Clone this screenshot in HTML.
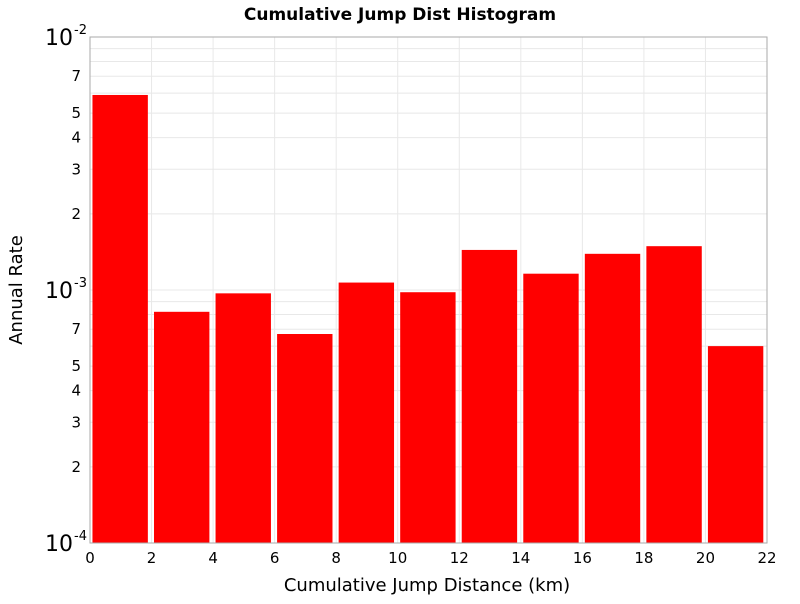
<!DOCTYPE html>
<html><head><meta charset="utf-8"><style>
body{margin:0;background:#fff;font-family:"DejaVu Sans","Liberation Sans",sans-serif}
</style></head><body>
<svg id="chart" width="800" height="600" xmlns="http://www.w3.org/2000/svg" font-family="DejaVu Sans, Liberation Sans, sans-serif">
<text x="400" y="20" text-anchor="middle" font-size="17" font-weight="bold">Cumulative Jump Dist Histogram</text>
<g id="grid"></g><g id="bars"></g><g id="axes"></g>
<text x="427" y="591" text-anchor="middle" font-size="18">Cumulative Jump Distance (km)</text>
<text transform="translate(22,290) rotate(-90)" text-anchor="middle" font-size="18">Annual Rate</text>
</svg>
<script>
const binStarts=[0,2,4,6,8,10,12,14,16,18,20];
const rates=[5.9e-3,8.2e-4,9.7e-4,6.7e-4,1.07e-3,9.8e-4,1.44e-3,1.16e-3,1.39e-3,1.49e-3,6.0e-4];
const xTicks=[0,2,4,6,8,10,12,14,16,18,20,22];
const minorLabels=[2,3,4,5,7];
const decades=[-4,-3,-2];
const NS="http://www.w3.org/2000/svg";
const L=90,R=767,T=37,B=543;
const xs=v=>L+(v/22)*(R-L);
const ys=v=>B-(Math.log10(v)+4)/2*(B-T);
function mk(tag,attrs,parent,txt){const e=document.createElementNS(NS,tag);for(const k in attrs)e.setAttribute(k,attrs[k]);if(txt!==undefined)e.textContent=txt;parent.appendChild(e);return e;}
const grid=document.getElementById('grid'),bars=document.getElementById('bars'),axes=document.getElementById('axes');
xTicks.forEach(t=>{const l=mk('line',{x1:xs(t),x2:xs(t),y1:T,y2:B,stroke:'#e8e8e8'},grid);

});
[-4,-3].forEach(d=>{for(let m=1;m<10;m++){const v=m*Math.pow(10,d);const y=ys(v);
const l=mk('line',{x1:L,x2:R,y1:y,y2:y,stroke:'#e8e8e8'},grid);

}});
binStarts.forEach((s,i)=>{const x1=xs(s+0.08),x2=xs(s+1.88);const y=ys(rates[i]);
const r=mk('rect',{x:x1,y:y,width:x2-x1,height:B-y,fill:'#ff0000'},bars);

});
const frame=mk('rect',{x:L,y:T,width:R-L,height:B-T,fill:'none',stroke:'#aaa'},axes);


xTicks.forEach(t=>{const e=mk('text',{x:xs(t),y:563,'text-anchor':'middle','font-size':15},axes,String(t));

});
[-4,-3].forEach(d=>minorLabels.forEach(m=>{const e=mk('text',{x:81,y:ys(m*Math.pow(10,d))+5,'text-anchor':'end','font-size':15},axes,String(m));

}));
decades.forEach(d=>{const y=ys(Math.pow(10,d));
const e=mk('text',{x:73,y:y+8,'text-anchor':'end','font-size':22},axes,'10');


const s=mk('text',{x:74,y:y-3,'text-anchor':'start','font-size':13},axes,String(d));

});
</script>
</body></html>
